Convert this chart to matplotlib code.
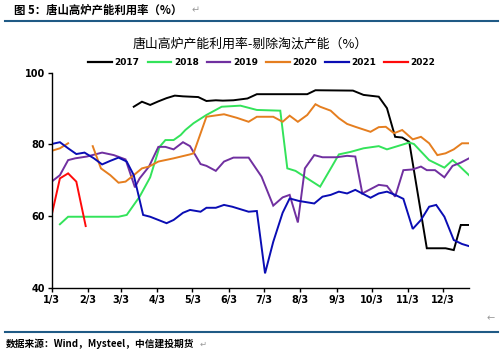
import numpy as np
import matplotlib
matplotlib.use("Agg")
import matplotlib.pyplot as plt
from matplotlib.lines import Line2D

plt.rcParams['font.family'] = ['Noto Sans CJK SC', 'DejaVu Sans']

# x: day offset from Jan 3
tick_days = [0, 31, 59, 90, 120, 151, 181, 212, 243, 273, 304, 334]
tick_labels = ["1/3", "2/3", "3/3", "4/3", "5/3", "6/3", "7/3", "8/3", "9/3", "10/3", "11/3", "12/3"]

d2017 = [70, 77, 84, 91, 98, 105, 112, 125, 132, 140, 146, 155, 167, 175, 218, 225, 257, 266, 279, 286, 293, 299, 305, 320, 336, 343, 349, 356]
v2017 = [90.5, 91.9, 91.0, 92.0, 92.9, 93.6, 93.4, 93.2, 92.1, 92.3, 92.2, 92.3, 92.8, 94.0, 94.0, 95.1, 95.0, 93.8, 93.3, 90.1, 82.1, 81.9, 80.7, 51.0, 51.0, 50.5, 57.5, 57.5]

d2018 = [7, 14, 57, 64, 75, 84, 92, 97, 104, 110, 114, 121, 132, 145, 161, 175, 195, 201, 208, 218, 229, 239, 245, 255, 266, 279, 286, 295, 305, 309, 322, 335, 342, 347, 356]
v2018 = [57.7, 59.8, 59.8, 60.3, 65.4, 70.8, 79.3, 81.2, 81.2, 82.6, 84.0, 85.9, 88.2, 90.5, 90.8, 89.6, 89.4, 73.3, 72.6, 70.5, 68.2, 73.8, 77.2, 77.9, 78.9, 79.5, 78.6, 79.5, 80.5, 80.1, 75.6, 73.5, 75.6, 74.2, 71.4]

d2019 = [0, 7, 14, 20, 30, 43, 53, 63, 71, 75, 83, 91, 97, 104, 112, 118, 127, 132, 140, 147, 155, 168, 179, 189, 197, 203, 210, 216, 224, 231, 243, 252, 259, 265, 272, 279, 286, 293, 300, 308, 315, 320, 327, 335, 342, 349, 356]
v2019 = [69.6, 71.4, 75.6, 76.1, 76.6, 77.7, 77.0, 75.8, 68.0, 70.5, 73.8, 79.3, 79.3, 78.6, 80.6, 79.5, 74.5, 74.0, 72.6, 75.2, 76.3, 76.3, 71.0, 62.9, 65.2, 65.9, 58.2, 73.3, 77.0, 76.4, 76.4, 76.8, 76.6, 66.3, 67.5, 68.7, 68.4, 65.4, 72.8, 73.0, 73.8, 72.8, 72.8, 70.8, 74.0, 74.9, 76.1]

d2020 = [0, 7, 14, 21, 35, 42, 50, 57, 63, 70, 77, 83, 91, 104, 118, 121, 132, 147, 158, 168, 175, 189, 197, 203, 210, 218, 225, 229, 238, 245, 252, 259, 272, 279, 285, 292, 299, 308, 315, 322, 329, 336, 343, 350, 356]
v2020 = [78.2, 78.9, 80.3, np.nan, 79.5, 73.3, 71.4, 69.3, 69.6, 71.4, 73.3, 73.8, 75.2, 76.1, 77.2, 77.5, 87.7, 88.4, 87.4, 86.3, 87.7, 87.7, 86.3, 88.0, 86.3, 88.2, 91.2, 90.5, 89.4, 87.3, 85.7, 84.9, 83.5, 84.8, 84.9, 83.1, 84.0, 81.4, 82.1, 80.3, 77.0, 77.5, 78.6, 80.3, 80.3]

d2021 = [0, 7, 14, 21, 28, 36, 43, 50, 57, 64, 70, 78, 84, 91, 98, 104, 112, 118, 127, 132, 140, 147, 154, 168, 175, 182, 189, 197, 203, 211, 224, 231, 238, 245, 252, 259, 272, 279, 286, 293, 300, 308, 315, 322, 328, 335, 343, 350, 356]
v2021 = [80.1, 80.6, 78.9, 77.3, 77.7, 76.1, 74.4, 75.4, 76.3, 75.2, 71.4, 60.3, 59.8, 58.9, 58.0, 58.9, 60.9, 61.7, 61.2, 62.3, 62.3, 63.1, 62.6, 61.2, 61.4, 44.0, 52.8, 60.9, 64.9, 64.2, 63.5, 65.4, 65.9, 66.8, 66.3, 67.3, 65.1, 66.3, 66.8, 65.9, 64.8, 56.4, 58.9, 62.6, 63.1, 59.8, 53.3, 52.2, 51.6]

d2022 = [0, 7, 14, 21, 29]
v2022 = [60.3, 70.5, 71.9, 69.6, 57.2]

series = [
    ("2017", d2017, v2017, "#000000"),
    ("2018", d2018, v2018, "#33E35A"),
    ("2019", d2019, v2019, "#7030A0"),
    ("2020", d2020, v2020, "#E57E1F"),
    ("2021", d2021, v2021, "#0A0DB4"),
    ("2022", d2022, v2022, "#FF0A0A"),
]

fig = plt.figure(figsize=(5.0, 3.52), dpi=100)
ax = fig.add_axes([0.1034, 0.1827, 0.8346, 0.6108])

for name, d, v, c in series:
    ax.plot(d, v, color=c, lw=1.4, label=name, solid_joinstyle='miter')

ax.set_xlim(0, 356)
ax.set_ylim(40, 100)
ax.set_yticks([40, 60, 80, 100])
ax.set_xticks(tick_days)
ax.set_xticklabels(tick_labels)
for s in ["top", "right"]:
    ax.spines[s].set_visible(False)
for s in ["left", "bottom"]:
    ax.spines[s].set_linewidth(1.0)
ax.tick_params(axis='both', length=3, width=1.0, labelsize=7, pad=2)
for lbl in ax.get_xticklabels() + ax.get_yticklabels():
    lbl.set_fontweight('bold')
    lbl.set_family('DejaVu Sans')

handles = [Line2D([0], [0], color=c, lw=1.6) for _, _, _, c in series]
leg = fig.legend(handles, [s[0] for s in series], loc='center', bbox_to_anchor=(0.524, 0.822),
                 ncol=6, frameon=False, handlelength=2.6, handletextpad=0.3, columnspacing=0.9,
                 borderaxespad=0, borderpad=0,
                 prop={'size': 6.5, 'weight': 'bold', 'family': 'DejaVu Sans'})

fig.text(0.5, 1 - 44 / 352, "唐山高炉产能利用率-剔除淘汰产能（%）", ha='center', va='center', fontsize=9.3)
fig.text(0.028, 1 - 10 / 352, "图 5：唐山高炉产能利用率（%）", ha='left', va='center', fontsize=8.2, fontweight='bold')
fig.text(0.384, 1 - 10 / 352, "↵", ha='left', va='center', fontsize=7, color='#999999', family=['DejaVu Sans'])
fig.text(0.99, 1 - 318 / 352, "←", ha='right', va='center', fontsize=7, color='#999999', family=['DejaVu Sans'])
fig.add_artist(Line2D([0.01, 0.995], [1 - 21 / 352, 1 - 21 / 352], color='#1F5A85', lw=1.5))
fig.add_artist(Line2D([0.01, 0.995], [1 - 332 / 352, 1 - 332 / 352], color='#1F5A85', lw=1.5))
fig.text(0.012, 1 - 344 / 352, "数据来源：Wind，Mysteel，中信建投期货", ha='left', va='center', fontsize=7,
         fontweight='bold', style='italic')
fig.text(0.4, 1 - 344 / 352, "↵", ha='left', va='center', fontsize=6, color='#999999', family=['DejaVu Sans'])

fig.savefig("out.png", dpi=100)
